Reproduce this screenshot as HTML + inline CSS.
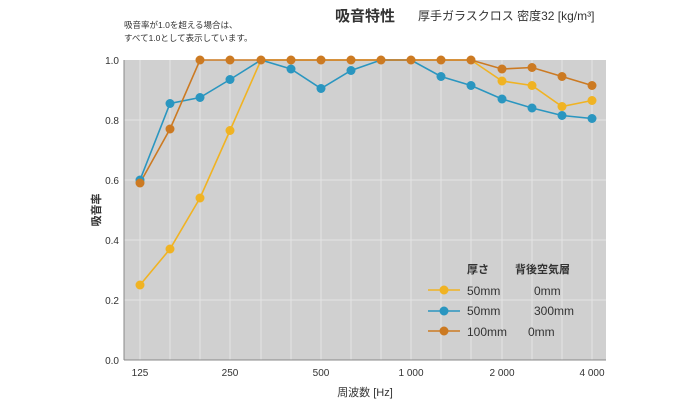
<!DOCTYPE html>
<html><head><meta charset="utf-8"><style>
body{margin:0;background:#fff;}
svg text{font-family:"Liberation Sans","Noto Sans CJK JP",sans-serif;}
</style></head><body>
<svg width="700" height="400" xmlns="http://www.w3.org/2000/svg">
<rect x="124" y="60" width="482" height="300" fill="#d0d0d0"/>
<g stroke="#e4e4e4" stroke-width="1">
<line x1="124" y1="120" x2="606" y2="120"/><line x1="124" y1="180" x2="606" y2="180"/>
<line x1="124" y1="240" x2="606" y2="240"/><line x1="124" y1="300" x2="606" y2="300"/>
<line x1="140" y1="60" x2="140" y2="360"/><line x1="170" y1="60" x2="170" y2="360"/>
<line x1="200" y1="60" x2="200" y2="360"/><line x1="230" y1="60" x2="230" y2="360"/>
<line x1="261" y1="60" x2="261" y2="360"/><line x1="291" y1="60" x2="291" y2="360"/>
<line x1="321" y1="60" x2="321" y2="360"/><line x1="351" y1="60" x2="351" y2="360"/>
<line x1="381" y1="60" x2="381" y2="360"/><line x1="411" y1="60" x2="411" y2="360"/>
<line x1="441" y1="60" x2="441" y2="360"/><line x1="471" y1="60" x2="471" y2="360"/>
<line x1="502" y1="60" x2="502" y2="360"/><line x1="532" y1="60" x2="532" y2="360"/>
<line x1="562" y1="60" x2="562" y2="360"/><line x1="592" y1="60" x2="592" y2="360"/>
</g>
<line x1="124" y1="60" x2="124" y2="360" stroke="#888" stroke-width="1"/>
<line x1="124" y1="360" x2="606" y2="360" stroke="#888" stroke-width="1"/>
<g font-size="10" fill="#333" text-anchor="end">
<text x="119" y="64">1.0</text><text x="119" y="124">0.8</text><text x="119" y="184">0.6</text>
<text x="119" y="244">0.4</text><text x="119" y="304">0.2</text><text x="119" y="364">0.0</text>
</g>
<g font-size="10" fill="#333" text-anchor="middle">
<text x="140" y="376">125</text><text x="230" y="376">250</text><text x="321" y="376">500</text>
<text x="411" y="376">1 000</text><text x="502" y="376">2 000</text><text x="592" y="376">4 000</text>
</g>
<text x="365" y="396" font-size="11" fill="#333" text-anchor="middle">周波数 [Hz]</text>
<text transform="translate(100,210) rotate(-90)" font-size="11" fill="#333" text-anchor="middle" font-weight="bold">吸音率</text>
<text x="335" y="21" font-size="15" fill="#333" font-weight="bold">吸音特性</text>
<text x="418" y="20" font-size="12" fill="#333">厚手ガラスクロス 密度32 [kg/m³]</text>
<text x="124" y="28" font-size="8.5" fill="#333">吸音率が1.0を超える場合は、</text>
<text x="124" y="41" font-size="8.5" fill="#333">すべて1.0として表示しています。</text>
<g stroke-width="1.6" fill="none">
<polyline stroke="#f0b323" points="140,285 170,249 200,198 230,130.5 261,60 291,60 321,60 351,60 381,60 411,60 441,60 471,60 502,81 532,85.5 562,106.5 592,100.5"/>
<polyline stroke="#2a96c0" points="140,180 170,103.5 200,97.5 230,79.5 261,60 291,69 321,88.5 351,70.5 381,60 411,60 441,76.5 471,85.5 502,99 532,108 562,115.5 592,118.5"/>
<polyline stroke="#cc7a22" points="140,183 170,129 200,60 230,60 261,60 291,60 321,60 351,60 381,60 411,60 441,60 471,60 502,69 532,67.5 562,76.5 592,85.5"/>
</g>
<g fill="#f0b323"><circle cx="140" cy="285" r="4.5"/><circle cx="170" cy="249" r="4.5"/><circle cx="200" cy="198" r="4.5"/><circle cx="230" cy="130.5" r="4.5"/><circle cx="502" cy="81" r="4.5"/><circle cx="532" cy="85.5" r="4.5"/><circle cx="562" cy="106.5" r="4.5"/><circle cx="592" cy="100.5" r="4.5"/></g>
<g fill="#2a96c0"><circle cx="140" cy="180" r="4.5"/><circle cx="170" cy="103.5" r="4.5"/><circle cx="200" cy="97.5" r="4.5"/><circle cx="230" cy="79.5" r="4.5"/><circle cx="291" cy="69" r="4.5"/><circle cx="321" cy="88.5" r="4.5"/><circle cx="351" cy="70.5" r="4.5"/><circle cx="441" cy="76.5" r="4.5"/><circle cx="471" cy="85.5" r="4.5"/><circle cx="502" cy="99" r="4.5"/><circle cx="532" cy="108" r="4.5"/><circle cx="562" cy="115.5" r="4.5"/><circle cx="592" cy="118.5" r="4.5"/></g>
<g fill="#cc7a22"><circle cx="140" cy="183" r="4.5"/><circle cx="170" cy="129" r="4.5"/><circle cx="200" cy="60" r="4.5"/><circle cx="230" cy="60" r="4.5"/><circle cx="261" cy="60" r="4.5"/><circle cx="291" cy="60" r="4.5"/><circle cx="321" cy="60" r="4.5"/><circle cx="351" cy="60" r="4.5"/><circle cx="381" cy="60" r="4.5"/><circle cx="411" cy="60" r="4.5"/><circle cx="441" cy="60" r="4.5"/><circle cx="471" cy="60" r="4.5"/><circle cx="502" cy="69" r="4.5"/><circle cx="532" cy="67.5" r="4.5"/><circle cx="562" cy="76.5" r="4.5"/><circle cx="592" cy="85.5" r="4.5"/></g>
<g font-size="12" fill="#333">
<text x="467" y="273" font-weight="bold" font-size="11">厚さ</text>
<text x="515" y="273" font-weight="bold" font-size="11">背後空気層</text>
<text x="467" y="295">50mm</text><text x="534" y="295">0mm</text>
<text x="467" y="315">50mm</text><text x="534" y="315">300mm</text>
<text x="467" y="336">100mm</text><text x="528" y="336">0mm</text>
</g>
<line x1="428" y1="290" x2="460" y2="290" stroke="#f0b323" stroke-width="1.6"/><circle cx="444" cy="290" r="4.5" fill="#f0b323"/>
<line x1="428" y1="311" x2="460" y2="311" stroke="#2a96c0" stroke-width="1.6"/><circle cx="444" cy="311" r="4.5" fill="#2a96c0"/>
<line x1="428" y1="331" x2="460" y2="331" stroke="#cc7a22" stroke-width="1.6"/><circle cx="444" cy="331" r="4.5" fill="#cc7a22"/>
</svg>
</body></html>
